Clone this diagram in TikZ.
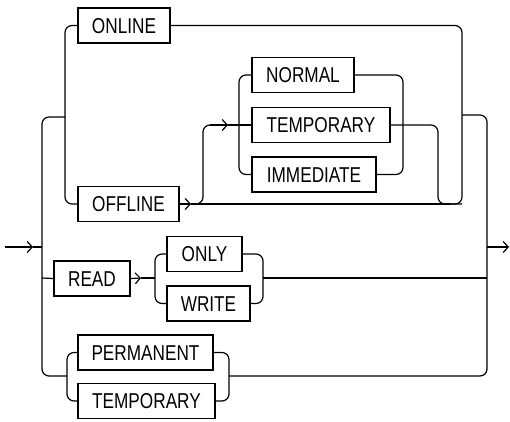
\documentclass[tikz,border=0pt]{standalone}
\usepackage{fontspec}
\setmainfont{Liberation Sans}[FakeStretch=0.8]
\usetikzlibrary{arrows.meta}
\begin{document}
\begin{tikzpicture}[x=1pt,y=-1pt,
  kw/.style={draw, line width=1.5pt, minimum height=35pt, inner sep=0pt,
    font=\fontsize{21.5}{22}\selectfont, text height=15.4pt, text depth=0pt},
  ln/.style={line width=1.2pt, rounded corners=7pt},
  arr/.style={line width=1.2pt, -{Straight Barb[length=5pt,width=11pt,line width=1.2pt]}}]
\useasboundingbox (0,0) rectangle (510,421);
% keyword boxes
\node[kw, minimum width=92pt]  (online)  at (124,25.5)  {ONLINE};
\node[kw, minimum width=101pt] (offline) at (128.5,204) {OFFLINE};
\node[kw, minimum width=102pt] (normal)  at (303,75)    {NORMAL};
\node[kw, minimum width=138pt] (temp)    at (321,125)   {TEMPORARY};
\node[kw, minimum width=124pt] (immed)   at (314,174.5) {IMMEDIATE};
\node[kw, minimum width=76pt]  (read)    at (92,278.5)  {READ};
\node[kw, minimum width=75pt]  (only)    at (204.5,254) {ONLY};
\node[kw, minimum width=83pt]  (write)   at (208.5,303.5) {WRITE};
\node[kw, minimum width=135pt] (perm)    at (145.5,352.5) {PERMANENT};
\node[kw, minimum width=137pt] (temp2)   at (146.5,401) {TEMPORARY};
% junction coordinates
\coordinate (start) at (5,247);
\coordinate (inTip) at (33,247);
\coordinate (mainL) at (42,247);
\coordinate (ltop) at (42,117);
\coordinate (lbot) at (42,376);
\coordinate (lread) at (42,278);
\coordinate (ojoin) at (65,117);
\coordinate (pjoin) at (67,376);
\coordinate (offTip) at (191,204);
\coordinate (offUp) at (203,204);
\coordinate (offTop) at (203,125);
\coordinate (tTip) at (228,125);
\coordinate (rTip) at (141,278);
\coordinate (rB) at (155,278);
\coordinate (wR) at (263,278);
\coordinate (bigR) at (462,115);
\coordinate (mainR) at (487,247);
\coordinate (rread) at (487,278);
\coordinate (endTip) at (509,247);
% entry and main left spine
\draw[arr] (start) -- (inTip);
\draw[ln] (inTip) -- (mainL);
\draw[ln] (ojoin) -- (ltop) -- (lbot) -- (pjoin);
% ONLINE / OFFLINE choice
\draw[ln] (online.west) -- (65,25.5) -- (65,204) -- (offline.west);
\draw[ln] (online.east) -- (462,25.5) -- (462,204) -- (438,204);
\draw[arr] (offline.east) -- (offTip);
\draw[ln] (offTip) -- (450,204);
\draw[ln] (offTip) -- (offUp) -- (offTop) -- (tTip);
\draw[arr] (offTop) ++(7,0) -- (tTip);
\draw[ln] (tTip) -- (temp.west);
% NORMAL / TEMPORARY / IMMEDIATE
\draw[ln] (normal.west) -- (239,75) -- (239,174.5) -- (immed.west);
\draw[ln] (normal.east) -- (403,75) -- (403,174.5) -- (immed.east);
\draw[ln] (temp.east) -- (438,125) -- (438,204) -- (462,204);
% exit of upper part to right spine
\draw[ln] (bigR) -- (487,115) -- (487,376) -- (229,376);
\draw[arr] (mainR) -- (endTip);
% READ ONLY / WRITE
\draw[ln] (lread) -- (read.west);
\draw[arr] (read.east) -- (rTip);
\draw[ln] (rTip) -- (rB);
\draw[ln] (only.west) -- (155,254) -- (155,303.5) -- (write.west);
\draw[ln] (only.east) -- (263,254) -- (263,303.5) -- (write.east);
\draw[ln] (wR) -- (rread);
% PERMANENT / TEMPORARY
\draw[ln] (perm.west) -- (67,352.5) -- (67,401) -- (temp2.west);
\draw[ln] (perm.east) -- (229,352.5) -- (229,401) -- (temp2.east);
\end{tikzpicture}
\end{document}
